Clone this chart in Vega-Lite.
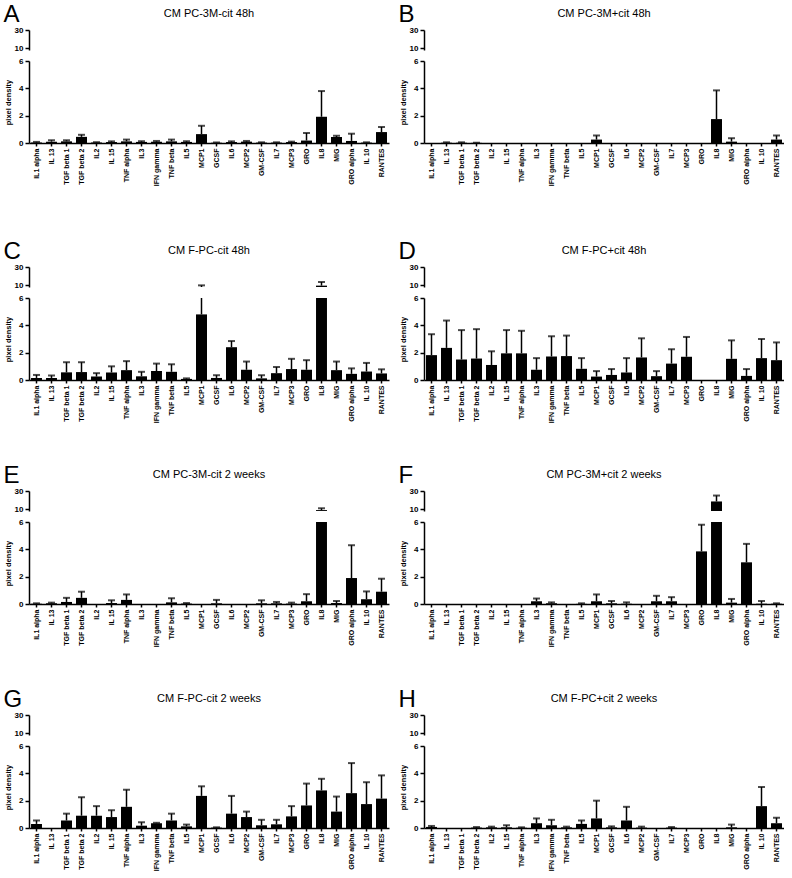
{
"$schema": "https://vega.github.io/schema/vega-lite/v6.json",
"background": "white",
"padding": {"left": 3, "top": 2, "right": 0, "bottom": 0},
"data": {"values": [
{"p":"A","c":"IL1 alpha","m":0.03,"h":0.08},{"p":"A","c":"IL 13","m":0.1,"h":0.2},{"p":"A","c":"TGF beta 1","m":0.12,"h":0.2},{"p":"A","c":"TGF beta 2","m":0.45,"h":0.6},{"p":"A","c":"IL2","m":0.03,"h":0.06},{"p":"A","c":"IL 15","m":0.07,"h":0.12},{"p":"A","c":"TNF alpha","m":0.12,"h":0.25},{"p":"A","c":"IL3","m":0.08,"h":0.13},{"p":"A","c":"IFN gamma","m":0.1,"h":0.15},{"p":"A","c":"TNF beta","m":0.12,"h":0.25},{"p":"A","c":"IL5","m":0.08,"h":0.13},{"p":"A","c":"MCP1","m":0.65,"h":1.26},{"p":"A","c":"GCSF","m":0.02,"h":0.04},{"p":"A","c":"IL6","m":0.07,"h":0.12},{"p":"A","c":"MCP2","m":0.1,"h":0.15},{"p":"A","c":"GM-CSF","m":0.03,"h":0.05},{"p":"A","c":"IL7","m":0.03,"h":0.05},{"p":"A","c":"MCP3","m":0.07,"h":0.1},{"p":"A","c":"GRO","m":0.18,"h":0.73},{"p":"A","c":"IL8","m":1.92,"h":3.8},{"p":"A","c":"MIG","m":0.44,"h":0.53},{"p":"A","c":"GRO alpha","m":0.15,"h":0.68},{"p":"A","c":"IL 10","m":0.03,"h":0.05},{"p":"A","c":"RANTES","m":0.8,"h":1.17},
{"p":"B","c":"IL1 alpha","m":0,"h":0},{"p":"B","c":"IL 13","m":0.02,"h":0.05},{"p":"B","c":"TGF beta 1","m":0.02,"h":0.05},{"p":"B","c":"TGF beta 2","m":0.01,"h":0.02},{"p":"B","c":"IL2","m":0,"h":0},{"p":"B","c":"IL 15","m":0,"h":0},{"p":"B","c":"TNF alpha","m":0,"h":0},{"p":"B","c":"IL3","m":0,"h":0},{"p":"B","c":"IFN gamma","m":0,"h":0},{"p":"B","c":"TNF beta","m":0,"h":0},{"p":"B","c":"IL5","m":0,"h":0},{"p":"B","c":"MCP1","m":0.25,"h":0.55},{"p":"B","c":"GCSF","m":0,"h":0},{"p":"B","c":"IL6","m":0,"h":0},{"p":"B","c":"MCP2","m":0,"h":0},{"p":"B","c":"GM-CSF","m":0,"h":0},{"p":"B","c":"IL7","m":0,"h":0},{"p":"B","c":"MCP3","m":0,"h":0},{"p":"B","c":"GRO","m":0,"h":0},{"p":"B","c":"IL8","m":1.75,"h":3.85},{"p":"B","c":"MIG","m":0.1,"h":0.35},{"p":"B","c":"GRO alpha","m":0,"h":0},{"p":"B","c":"IL 10","m":0,"h":0},{"p":"B","c":"RANTES","m":0.25,"h":0.55},
{"p":"C","c":"IL1 alpha","m":0.15,"h":0.37},{"p":"C","c":"IL 13","m":0.15,"h":0.33},{"p":"C","c":"TGF beta 1","m":0.56,"h":1.3},{"p":"C","c":"TGF beta 2","m":0.58,"h":1.3},{"p":"C","c":"IL2","m":0.25,"h":0.5},{"p":"C","c":"IL 15","m":0.55,"h":1.0},{"p":"C","c":"TNF alpha","m":0.72,"h":1.38},{"p":"C","c":"IL3","m":0.27,"h":0.6},{"p":"C","c":"IFN gamma","m":0.65,"h":1.2},{"p":"C","c":"TNF beta","m":0.6,"h":1.15},{"p":"C","c":"IL5","m":0.08,"h":0.12},{"p":"C","c":"MCP1","m":4.8,"h":9.8},{"p":"C","c":"GCSF","m":0.15,"h":0.35},{"p":"C","c":"IL6","m":2.4,"h":2.85},{"p":"C","c":"MCP2","m":0.75,"h":1.35},{"p":"C","c":"GM-CSF","m":0.12,"h":0.35},{"p":"C","c":"IL7","m":0.5,"h":0.95},{"p":"C","c":"MCP3","m":0.8,"h":1.55},{"p":"C","c":"GRO","m":0.75,"h":1.45},{"p":"C","c":"IL8","m":9.5,"h":13.5},{"p":"C","c":"MIG","m":0.72,"h":1.35},{"p":"C","c":"GRO alpha","m":0.45,"h":0.85},{"p":"C","c":"IL 10","m":0.62,"h":1.25},{"p":"C","c":"RANTES","m":0.48,"h":0.78},
{"p":"D","c":"IL1 alpha","m":1.82,"h":3.35},{"p":"D","c":"IL 13","m":2.35,"h":4.35},{"p":"D","c":"TGF beta 1","m":1.5,"h":3.65},{"p":"D","c":"TGF beta 2","m":1.57,"h":3.72},{"p":"D","c":"IL2","m":1.1,"h":2.1},{"p":"D","c":"IL 15","m":1.95,"h":3.65},{"p":"D","c":"TNF alpha","m":1.95,"h":3.6},{"p":"D","c":"IL3","m":0.75,"h":1.6},{"p":"D","c":"IFN gamma","m":1.72,"h":3.2},{"p":"D","c":"TNF beta","m":1.75,"h":3.25},{"p":"D","c":"IL5","m":0.82,"h":1.6},{"p":"D","c":"MCP1","m":0.25,"h":0.65},{"p":"D","c":"GCSF","m":0.37,"h":0.8},{"p":"D","c":"IL6","m":0.55,"h":1.6},{"p":"D","c":"MCP2","m":1.65,"h":3.05},{"p":"D","c":"GM-CSF","m":0.28,"h":0.65},{"p":"D","c":"IL7","m":1.2,"h":2.25},{"p":"D","c":"MCP3","m":1.7,"h":3.15},{"p":"D","c":"GRO","m":0,"h":0},{"p":"D","c":"IL8","m":0,"h":0},{"p":"D","c":"MIG","m":1.55,"h":2.9},{"p":"D","c":"GRO alpha","m":0.3,"h":0.8},{"p":"D","c":"IL 10","m":1.6,"h":3.0},{"p":"D","c":"RANTES","m":1.45,"h":2.75},
{"p":"E","c":"IL1 alpha","m":0.02,"h":0.05},{"p":"E","c":"IL 13","m":0.05,"h":0.1},{"p":"E","c":"TGF beta 1","m":0.15,"h":0.45},{"p":"E","c":"TGF beta 2","m":0.45,"h":0.9},{"p":"E","c":"IL2","m":0,"h":0},{"p":"E","c":"IL 15","m":0.07,"h":0.27},{"p":"E","c":"TNF alpha","m":0.3,"h":0.7},{"p":"E","c":"IL3","m":0,"h":0},{"p":"E","c":"IFN gamma","m":0,"h":0},{"p":"E","c":"TNF beta","m":0.12,"h":0.42},{"p":"E","c":"IL5","m":0.03,"h":0.07},{"p":"E","c":"MCP1","m":0,"h":0},{"p":"E","c":"GCSF","m":0.05,"h":0.3},{"p":"E","c":"IL6","m":0,"h":0},{"p":"E","c":"MCP2","m":0,"h":0},{"p":"E","c":"GM-CSF","m":0.05,"h":0.27},{"p":"E","c":"IL7","m":0.05,"h":0.15},{"p":"E","c":"MCP3","m":0.03,"h":0.1},{"p":"E","c":"GRO","m":0.2,"h":0.72},{"p":"E","c":"IL8","m":9,"h":11},{"p":"E","c":"MIG","m":0.07,"h":0.22},{"p":"E","c":"GRO alpha","m":1.9,"h":4.3},{"p":"E","c":"IL 10","m":0.35,"h":0.92},{"p":"E","c":"RANTES","m":0.9,"h":1.85},
{"p":"F","c":"IL1 alpha","m":0,"h":0},{"p":"F","c":"IL 13","m":0,"h":0},{"p":"F","c":"TGF beta 1","m":0,"h":0},{"p":"F","c":"TGF beta 2","m":0,"h":0},{"p":"F","c":"IL2","m":0,"h":0},{"p":"F","c":"IL 15","m":0,"h":0},{"p":"F","c":"TNF alpha","m":0,"h":0},{"p":"F","c":"IL3","m":0.2,"h":0.4},{"p":"F","c":"IFN gamma","m":0.05,"h":0.12},{"p":"F","c":"TNF beta","m":0,"h":0},{"p":"F","c":"IL5","m":0.01,"h":0.05},{"p":"F","c":"MCP1","m":0.2,"h":0.7},{"p":"F","c":"GCSF","m":0.05,"h":0.22},{"p":"F","c":"IL6","m":0.02,"h":0.12},{"p":"F","c":"MCP2","m":0,"h":0},{"p":"F","c":"GM-CSF","m":0.2,"h":0.6},{"p":"F","c":"IL7","m":0.2,"h":0.5},{"p":"F","c":"MCP3","m":0,"h":0},{"p":"F","c":"GRO","m":3.85,"h":5.8},{"p":"F","c":"IL8","m":18.5,"h":25},{"p":"F","c":"MIG","m":0.1,"h":0.37},{"p":"F","c":"GRO alpha","m":3.05,"h":4.4},{"p":"F","c":"IL 10","m":0.02,"h":0.22},{"p":"F","c":"RANTES","m":0.02,"h":0.05},
{"p":"G","c":"IL1 alpha","m":0.3,"h":0.55},{"p":"G","c":"IL 13","m":0,"h":0},{"p":"G","c":"TGF beta 1","m":0.55,"h":1.05},{"p":"G","c":"TGF beta 2","m":0.9,"h":2.25},{"p":"G","c":"IL2","m":0.9,"h":1.6},{"p":"G","c":"IL 15","m":0.8,"h":1.3},{"p":"G","c":"TNF alpha","m":1.55,"h":2.8},{"p":"G","c":"IL3","m":0.17,"h":0.42},{"p":"G","c":"IFN gamma","m":0.35,"h":0.38},{"p":"G","c":"TNF beta","m":0.55,"h":1.05},{"p":"G","c":"IL5","m":0.12,"h":0.25},{"p":"G","c":"MCP1","m":2.35,"h":3.05},{"p":"G","c":"GCSF","m":0.03,"h":0.05},{"p":"G","c":"IL6","m":1.05,"h":2.35},{"p":"G","c":"MCP2","m":0.8,"h":1.2},{"p":"G","c":"GM-CSF","m":0.2,"h":0.6},{"p":"G","c":"IL7","m":0.27,"h":0.6},{"p":"G","c":"MCP3","m":0.85,"h":1.6},{"p":"G","c":"GRO","m":1.65,"h":3.25},{"p":"G","c":"IL8","m":2.75,"h":3.6},{"p":"G","c":"MIG","m":1.2,"h":2.3},{"p":"G","c":"GRO alpha","m":2.55,"h":4.75},{"p":"G","c":"IL 10","m":1.75,"h":3.35},{"p":"G","c":"RANTES","m":2.15,"h":3.85},
{"p":"H","c":"IL1 alpha","m":0.08,"h":0.15},{"p":"H","c":"IL 13","m":0,"h":0},{"p":"H","c":"TGF beta 1","m":0,"h":0},{"p":"H","c":"TGF beta 2","m":0.03,"h":0.07},{"p":"H","c":"IL2","m":0.05,"h":0.1},{"p":"H","c":"IL 15","m":0.05,"h":0.2},{"p":"H","c":"TNF alpha","m":0.02,"h":0.05},{"p":"H","c":"IL3","m":0.35,"h":0.7},{"p":"H","c":"IFN gamma","m":0.2,"h":0.6},{"p":"H","c":"TNF beta","m":0.05,"h":0.1},{"p":"H","c":"IL5","m":0.3,"h":0.55},{"p":"H","c":"MCP1","m":0.7,"h":2.0},{"p":"H","c":"GCSF","m":0.05,"h":0.12},{"p":"H","c":"IL6","m":0.55,"h":1.55},{"p":"H","c":"MCP2","m":0.03,"h":0.1},{"p":"H","c":"GM-CSF","m":0,"h":0},{"p":"H","c":"IL7","m":0.03,"h":0.07},{"p":"H","c":"MCP3","m":0,"h":0},{"p":"H","c":"GRO","m":0,"h":0},{"p":"H","c":"IL8","m":0,"h":0},{"p":"H","c":"MIG","m":0.05,"h":0.25},{"p":"H","c":"GRO alpha","m":0,"h":0},{"p":"H","c":"IL 10","m":1.6,"h":3.0},{"p":"H","c":"RANTES","m":0.35,"h":0.75}
]},
"vconcat": [
{"hconcat": [
{"vconcat": [
 {"width": 360, "height": 20, "title": {"text": "CM PC-3M-cit 48h", "offset": -17},
  "transform": [{"filter": "datum.p === 'A'"}],
  "encoding": {"x": {"field": "c", "type": "nominal", "scale": {"domain": ["IL1 alpha","IL 13","TGF beta 1","TGF beta 2","IL2","IL 15","TNF alpha","IL3","IFN gamma","TNF beta","IL5","MCP1","GCSF","IL6","MCP2","GM-CSF","IL7","MCP3","GRO","IL8","MIG","GRO alpha","IL 10","RANTES"], "paddingInner": 0.27, "paddingOuter": 0.135}, "axis": null},
   "y": {"field": "m", "type": "quantitative", "scale": {"domain": [8, 30], "nice": false, "zero": false}, "axis": {"values": [10, 30], "title": "A", "titleAngle": 0, "titleAlign": "left", "titleBaseline": "top", "titleX": -26, "titleY": -28, "titleFontSize": 24, "titleFontWeight": "normal"}}},
  "layer": [
   {"mark": {"type": "bar", "color": "black", "clip": true}},
   {"mark": {"type": "rule", "color": "black", "strokeWidth": 1.5, "clip": true}, "encoding": {"y2": {"field": "h"}}},
   {"transform": [{"filter": "datum.h > 0"}], "mark": {"type": "tick", "color": "black", "thickness": 2, "size": 7, "clip": true}, "encoding": {"y": {"field": "h", "type": "quantitative"}}}
  ]},
 {"width": 360, "height": 82,
  "transform": [{"filter": "datum.p === 'A'"}],
  "encoding": {"x": {"field": "c", "type": "nominal", "scale": {"domain": ["IL1 alpha","IL 13","TGF beta 1","TGF beta 2","IL2","IL 15","TNF alpha","IL3","IFN gamma","TNF beta","IL5","MCP1","GCSF","IL6","MCP2","GM-CSF","IL7","MCP3","GRO","IL8","MIG","GRO alpha","IL 10","RANTES"], "paddingInner": 0.27, "paddingOuter": 0.135}, "axis": {"title": null}},
   "y": {"field": "m", "type": "quantitative", "scale": {"domain": [0, 6], "nice": false}, "axis": {"values": [0, 2, 4, 6], "title": "pixel density"}}},
  "layer": [
   {"mark": {"type": "bar", "color": "black", "clip": true}},
   {"mark": {"type": "rule", "color": "black", "strokeWidth": 1.5, "clip": true}, "encoding": {"y2": {"field": "h"}}},
   {"transform": [{"filter": "datum.h > 0"}], "mark": {"type": "tick", "color": "black", "thickness": 2, "size": 7, "clip": true}, "encoding": {"y": {"field": "h", "type": "quantitative"}}}
  ]}
], "spacing": 4},
{"vconcat": [
 {"width": 360, "height": 20, "title": {"text": "CM PC-3M+cit 48h", "offset": -17},
  "transform": [{"filter": "datum.p === 'B'"}],
  "encoding": {"x": {"field": "c", "type": "nominal", "scale": {"domain": ["IL1 alpha","IL 13","TGF beta 1","TGF beta 2","IL2","IL 15","TNF alpha","IL3","IFN gamma","TNF beta","IL5","MCP1","GCSF","IL6","MCP2","GM-CSF","IL7","MCP3","GRO","IL8","MIG","GRO alpha","IL 10","RANTES"], "paddingInner": 0.27, "paddingOuter": 0.135}, "axis": null},
   "y": {"field": "m", "type": "quantitative", "scale": {"domain": [8, 30], "nice": false, "zero": false}, "axis": {"values": [10, 30], "title": "B", "titleAngle": 0, "titleAlign": "left", "titleBaseline": "top", "titleX": -26, "titleY": -28, "titleFontSize": 24, "titleFontWeight": "normal"}}},
  "layer": [
   {"mark": {"type": "bar", "color": "black", "clip": true}},
   {"mark": {"type": "rule", "color": "black", "strokeWidth": 1.5, "clip": true}, "encoding": {"y2": {"field": "h"}}},
   {"transform": [{"filter": "datum.h > 0"}], "mark": {"type": "tick", "color": "black", "thickness": 2, "size": 7, "clip": true}, "encoding": {"y": {"field": "h", "type": "quantitative"}}}
  ]},
 {"width": 360, "height": 82,
  "transform": [{"filter": "datum.p === 'B'"}],
  "encoding": {"x": {"field": "c", "type": "nominal", "scale": {"domain": ["IL1 alpha","IL 13","TGF beta 1","TGF beta 2","IL2","IL 15","TNF alpha","IL3","IFN gamma","TNF beta","IL5","MCP1","GCSF","IL6","MCP2","GM-CSF","IL7","MCP3","GRO","IL8","MIG","GRO alpha","IL 10","RANTES"], "paddingInner": 0.27, "paddingOuter": 0.135}, "axis": {"title": null}},
   "y": {"field": "m", "type": "quantitative", "scale": {"domain": [0, 6], "nice": false}, "axis": {"values": [0, 2, 4, 6], "title": "pixel density"}}},
  "layer": [
   {"mark": {"type": "bar", "color": "black", "clip": true}},
   {"mark": {"type": "rule", "color": "black", "strokeWidth": 1.5, "clip": true}, "encoding": {"y2": {"field": "h"}}},
   {"transform": [{"filter": "datum.h > 0"}], "mark": {"type": "tick", "color": "black", "thickness": 2, "size": 7, "clip": true}, "encoding": {"y": {"field": "h", "type": "quantitative"}}}
  ]}
], "spacing": 4}
], "spacing": 9},
{"vconcat": [
{"hconcat": [
{"vconcat": [
 {"width": 360, "height": 20, "title": {"text": "CM F-PC-cit 48h", "offset": -17},
  "transform": [{"filter": "datum.p === 'C'"}],
  "encoding": {"x": {"field": "c", "type": "nominal", "scale": {"domain": ["IL1 alpha","IL 13","TGF beta 1","TGF beta 2","IL2","IL 15","TNF alpha","IL3","IFN gamma","TNF beta","IL5","MCP1","GCSF","IL6","MCP2","GM-CSF","IL7","MCP3","GRO","IL8","MIG","GRO alpha","IL 10","RANTES"], "paddingInner": 0.27, "paddingOuter": 0.135}, "axis": null},
   "y": {"field": "m", "type": "quantitative", "scale": {"domain": [8, 30], "nice": false, "zero": false}, "axis": {"values": [10, 30], "title": "C", "titleAngle": 0, "titleAlign": "left", "titleBaseline": "top", "titleX": -26, "titleY": -28, "titleFontSize": 24, "titleFontWeight": "normal"}}},
  "layer": [
   {"mark": {"type": "bar", "color": "black", "clip": true}},
   {"mark": {"type": "rule", "color": "black", "strokeWidth": 1.5, "clip": true}, "encoding": {"y2": {"field": "h"}}},
   {"transform": [{"filter": "datum.h > 0"}], "mark": {"type": "tick", "color": "black", "thickness": 2, "size": 7, "clip": true}, "encoding": {"y": {"field": "h", "type": "quantitative"}}}
  ]},
 {"width": 360, "height": 82,
  "transform": [{"filter": "datum.p === 'C'"}],
  "encoding": {"x": {"field": "c", "type": "nominal", "scale": {"domain": ["IL1 alpha","IL 13","TGF beta 1","TGF beta 2","IL2","IL 15","TNF alpha","IL3","IFN gamma","TNF beta","IL5","MCP1","GCSF","IL6","MCP2","GM-CSF","IL7","MCP3","GRO","IL8","MIG","GRO alpha","IL 10","RANTES"], "paddingInner": 0.27, "paddingOuter": 0.135}, "axis": {"title": null}},
   "y": {"field": "m", "type": "quantitative", "scale": {"domain": [0, 6], "nice": false}, "axis": {"values": [0, 2, 4, 6], "title": "pixel density"}}},
  "layer": [
   {"mark": {"type": "bar", "color": "black", "clip": true}},
   {"mark": {"type": "rule", "color": "black", "strokeWidth": 1.5, "clip": true}, "encoding": {"y2": {"field": "h"}}},
   {"transform": [{"filter": "datum.h > 0"}], "mark": {"type": "tick", "color": "black", "thickness": 2, "size": 7, "clip": true}, "encoding": {"y": {"field": "h", "type": "quantitative"}}}
  ]}
], "spacing": 4},
{"vconcat": [
 {"width": 360, "height": 20, "title": {"text": "CM F-PC+cit 48h", "offset": -17},
  "transform": [{"filter": "datum.p === 'D'"}],
  "encoding": {"x": {"field": "c", "type": "nominal", "scale": {"domain": ["IL1 alpha","IL 13","TGF beta 1","TGF beta 2","IL2","IL 15","TNF alpha","IL3","IFN gamma","TNF beta","IL5","MCP1","GCSF","IL6","MCP2","GM-CSF","IL7","MCP3","GRO","IL8","MIG","GRO alpha","IL 10","RANTES"], "paddingInner": 0.27, "paddingOuter": 0.135}, "axis": null},
   "y": {"field": "m", "type": "quantitative", "scale": {"domain": [8, 30], "nice": false, "zero": false}, "axis": {"values": [10, 30], "title": "D", "titleAngle": 0, "titleAlign": "left", "titleBaseline": "top", "titleX": -26, "titleY": -28, "titleFontSize": 24, "titleFontWeight": "normal"}}},
  "layer": [
   {"mark": {"type": "bar", "color": "black", "clip": true}},
   {"mark": {"type": "rule", "color": "black", "strokeWidth": 1.5, "clip": true}, "encoding": {"y2": {"field": "h"}}},
   {"transform": [{"filter": "datum.h > 0"}], "mark": {"type": "tick", "color": "black", "thickness": 2, "size": 7, "clip": true}, "encoding": {"y": {"field": "h", "type": "quantitative"}}}
  ]},
 {"width": 360, "height": 82,
  "transform": [{"filter": "datum.p === 'D'"}],
  "encoding": {"x": {"field": "c", "type": "nominal", "scale": {"domain": ["IL1 alpha","IL 13","TGF beta 1","TGF beta 2","IL2","IL 15","TNF alpha","IL3","IFN gamma","TNF beta","IL5","MCP1","GCSF","IL6","MCP2","GM-CSF","IL7","MCP3","GRO","IL8","MIG","GRO alpha","IL 10","RANTES"], "paddingInner": 0.27, "paddingOuter": 0.135}, "axis": {"title": null}},
   "y": {"field": "m", "type": "quantitative", "scale": {"domain": [0, 6], "nice": false}, "axis": {"values": [0, 2, 4, 6], "title": "pixel density"}}},
  "layer": [
   {"mark": {"type": "bar", "color": "black", "clip": true}},
   {"mark": {"type": "rule", "color": "black", "strokeWidth": 1.5, "clip": true}, "encoding": {"y2": {"field": "h"}}},
   {"transform": [{"filter": "datum.h > 0"}], "mark": {"type": "tick", "color": "black", "thickness": 2, "size": 7, "clip": true}, "encoding": {"y": {"field": "h", "type": "quantitative"}}}
  ]}
], "spacing": 4}
], "spacing": 9},
{"hconcat": [
{"vconcat": [
 {"width": 360, "height": 20, "title": {"text": "CM PC-3M-cit 2 weeks", "offset": -17},
  "transform": [{"filter": "datum.p === 'E'"}],
  "encoding": {"x": {"field": "c", "type": "nominal", "scale": {"domain": ["IL1 alpha","IL 13","TGF beta 1","TGF beta 2","IL2","IL 15","TNF alpha","IL3","IFN gamma","TNF beta","IL5","MCP1","GCSF","IL6","MCP2","GM-CSF","IL7","MCP3","GRO","IL8","MIG","GRO alpha","IL 10","RANTES"], "paddingInner": 0.27, "paddingOuter": 0.135}, "axis": null},
   "y": {"field": "m", "type": "quantitative", "scale": {"domain": [8, 30], "nice": false, "zero": false}, "axis": {"values": [10, 30], "title": "E", "titleAngle": 0, "titleAlign": "left", "titleBaseline": "top", "titleX": -26, "titleY": -28, "titleFontSize": 24, "titleFontWeight": "normal"}}},
  "layer": [
   {"mark": {"type": "bar", "color": "black", "clip": true}},
   {"mark": {"type": "rule", "color": "black", "strokeWidth": 1.5, "clip": true}, "encoding": {"y2": {"field": "h"}}},
   {"transform": [{"filter": "datum.h > 0"}], "mark": {"type": "tick", "color": "black", "thickness": 2, "size": 7, "clip": true}, "encoding": {"y": {"field": "h", "type": "quantitative"}}}
  ]},
 {"width": 360, "height": 82,
  "transform": [{"filter": "datum.p === 'E'"}],
  "encoding": {"x": {"field": "c", "type": "nominal", "scale": {"domain": ["IL1 alpha","IL 13","TGF beta 1","TGF beta 2","IL2","IL 15","TNF alpha","IL3","IFN gamma","TNF beta","IL5","MCP1","GCSF","IL6","MCP2","GM-CSF","IL7","MCP3","GRO","IL8","MIG","GRO alpha","IL 10","RANTES"], "paddingInner": 0.27, "paddingOuter": 0.135}, "axis": {"title": null}},
   "y": {"field": "m", "type": "quantitative", "scale": {"domain": [0, 6], "nice": false}, "axis": {"values": [0, 2, 4, 6], "title": "pixel density"}}},
  "layer": [
   {"mark": {"type": "bar", "color": "black", "clip": true}},
   {"mark": {"type": "rule", "color": "black", "strokeWidth": 1.5, "clip": true}, "encoding": {"y2": {"field": "h"}}},
   {"transform": [{"filter": "datum.h > 0"}], "mark": {"type": "tick", "color": "black", "thickness": 2, "size": 7, "clip": true}, "encoding": {"y": {"field": "h", "type": "quantitative"}}}
  ]}
], "spacing": 4},
{"vconcat": [
 {"width": 360, "height": 20, "title": {"text": "CM PC-3M+cit 2 weeks", "offset": -17},
  "transform": [{"filter": "datum.p === 'F'"}],
  "encoding": {"x": {"field": "c", "type": "nominal", "scale": {"domain": ["IL1 alpha","IL 13","TGF beta 1","TGF beta 2","IL2","IL 15","TNF alpha","IL3","IFN gamma","TNF beta","IL5","MCP1","GCSF","IL6","MCP2","GM-CSF","IL7","MCP3","GRO","IL8","MIG","GRO alpha","IL 10","RANTES"], "paddingInner": 0.27, "paddingOuter": 0.135}, "axis": null},
   "y": {"field": "m", "type": "quantitative", "scale": {"domain": [8, 30], "nice": false, "zero": false}, "axis": {"values": [10, 30], "title": "F", "titleAngle": 0, "titleAlign": "left", "titleBaseline": "top", "titleX": -26, "titleY": -28, "titleFontSize": 24, "titleFontWeight": "normal"}}},
  "layer": [
   {"mark": {"type": "bar", "color": "black", "clip": true}},
   {"mark": {"type": "rule", "color": "black", "strokeWidth": 1.5, "clip": true}, "encoding": {"y2": {"field": "h"}}},
   {"transform": [{"filter": "datum.h > 0"}], "mark": {"type": "tick", "color": "black", "thickness": 2, "size": 7, "clip": true}, "encoding": {"y": {"field": "h", "type": "quantitative"}}}
  ]},
 {"width": 360, "height": 82,
  "transform": [{"filter": "datum.p === 'F'"}],
  "encoding": {"x": {"field": "c", "type": "nominal", "scale": {"domain": ["IL1 alpha","IL 13","TGF beta 1","TGF beta 2","IL2","IL 15","TNF alpha","IL3","IFN gamma","TNF beta","IL5","MCP1","GCSF","IL6","MCP2","GM-CSF","IL7","MCP3","GRO","IL8","MIG","GRO alpha","IL 10","RANTES"], "paddingInner": 0.27, "paddingOuter": 0.135}, "axis": {"title": null}},
   "y": {"field": "m", "type": "quantitative", "scale": {"domain": [0, 6], "nice": false}, "axis": {"values": [0, 2, 4, 6], "title": "pixel density"}}},
  "layer": [
   {"mark": {"type": "bar", "color": "black", "clip": true}},
   {"mark": {"type": "rule", "color": "black", "strokeWidth": 1.5, "clip": true}, "encoding": {"y2": {"field": "h"}}},
   {"transform": [{"filter": "datum.h > 0"}], "mark": {"type": "tick", "color": "black", "thickness": 2, "size": 7, "clip": true}, "encoding": {"y": {"field": "h", "type": "quantitative"}}}
  ]}
], "spacing": 4}
], "spacing": 9},
{"hconcat": [
{"vconcat": [
 {"width": 360, "height": 20, "title": {"text": "CM F-PC-cit 2 weeks", "offset": -17},
  "transform": [{"filter": "datum.p === 'G'"}],
  "encoding": {"x": {"field": "c", "type": "nominal", "scale": {"domain": ["IL1 alpha","IL 13","TGF beta 1","TGF beta 2","IL2","IL 15","TNF alpha","IL3","IFN gamma","TNF beta","IL5","MCP1","GCSF","IL6","MCP2","GM-CSF","IL7","MCP3","GRO","IL8","MIG","GRO alpha","IL 10","RANTES"], "paddingInner": 0.27, "paddingOuter": 0.135}, "axis": null},
   "y": {"field": "m", "type": "quantitative", "scale": {"domain": [8, 30], "nice": false, "zero": false}, "axis": {"values": [10, 30], "title": "G", "titleAngle": 0, "titleAlign": "left", "titleBaseline": "top", "titleX": -26, "titleY": -28, "titleFontSize": 24, "titleFontWeight": "normal"}}},
  "layer": [
   {"mark": {"type": "bar", "color": "black", "clip": true}},
   {"mark": {"type": "rule", "color": "black", "strokeWidth": 1.5, "clip": true}, "encoding": {"y2": {"field": "h"}}},
   {"transform": [{"filter": "datum.h > 0"}], "mark": {"type": "tick", "color": "black", "thickness": 2, "size": 7, "clip": true}, "encoding": {"y": {"field": "h", "type": "quantitative"}}}
  ]},
 {"width": 360, "height": 82,
  "transform": [{"filter": "datum.p === 'G'"}],
  "encoding": {"x": {"field": "c", "type": "nominal", "scale": {"domain": ["IL1 alpha","IL 13","TGF beta 1","TGF beta 2","IL2","IL 15","TNF alpha","IL3","IFN gamma","TNF beta","IL5","MCP1","GCSF","IL6","MCP2","GM-CSF","IL7","MCP3","GRO","IL8","MIG","GRO alpha","IL 10","RANTES"], "paddingInner": 0.27, "paddingOuter": 0.135}, "axis": {"title": null}},
   "y": {"field": "m", "type": "quantitative", "scale": {"domain": [0, 6], "nice": false}, "axis": {"values": [0, 2, 4, 6], "title": "pixel density"}}},
  "layer": [
   {"mark": {"type": "bar", "color": "black", "clip": true}},
   {"mark": {"type": "rule", "color": "black", "strokeWidth": 1.5, "clip": true}, "encoding": {"y2": {"field": "h"}}},
   {"transform": [{"filter": "datum.h > 0"}], "mark": {"type": "tick", "color": "black", "thickness": 2, "size": 7, "clip": true}, "encoding": {"y": {"field": "h", "type": "quantitative"}}}
  ]}
], "spacing": 4},
{"vconcat": [
 {"width": 360, "height": 20, "title": {"text": "CM F-PC+cit 2 weeks", "offset": -17},
  "transform": [{"filter": "datum.p === 'H'"}],
  "encoding": {"x": {"field": "c", "type": "nominal", "scale": {"domain": ["IL1 alpha","IL 13","TGF beta 1","TGF beta 2","IL2","IL 15","TNF alpha","IL3","IFN gamma","TNF beta","IL5","MCP1","GCSF","IL6","MCP2","GM-CSF","IL7","MCP3","GRO","IL8","MIG","GRO alpha","IL 10","RANTES"], "paddingInner": 0.27, "paddingOuter": 0.135}, "axis": null},
   "y": {"field": "m", "type": "quantitative", "scale": {"domain": [8, 30], "nice": false, "zero": false}, "axis": {"values": [10, 30], "title": "H", "titleAngle": 0, "titleAlign": "left", "titleBaseline": "top", "titleX": -26, "titleY": -28, "titleFontSize": 24, "titleFontWeight": "normal"}}},
  "layer": [
   {"mark": {"type": "bar", "color": "black", "clip": true}},
   {"mark": {"type": "rule", "color": "black", "strokeWidth": 1.5, "clip": true}, "encoding": {"y2": {"field": "h"}}},
   {"transform": [{"filter": "datum.h > 0"}], "mark": {"type": "tick", "color": "black", "thickness": 2, "size": 7, "clip": true}, "encoding": {"y": {"field": "h", "type": "quantitative"}}}
  ]},
 {"width": 360, "height": 82,
  "transform": [{"filter": "datum.p === 'H'"}],
  "encoding": {"x": {"field": "c", "type": "nominal", "scale": {"domain": ["IL1 alpha","IL 13","TGF beta 1","TGF beta 2","IL2","IL 15","TNF alpha","IL3","IFN gamma","TNF beta","IL5","MCP1","GCSF","IL6","MCP2","GM-CSF","IL7","MCP3","GRO","IL8","MIG","GRO alpha","IL 10","RANTES"], "paddingInner": 0.27, "paddingOuter": 0.135}, "axis": {"title": null}},
   "y": {"field": "m", "type": "quantitative", "scale": {"domain": [0, 6], "nice": false}, "axis": {"values": [0, 2, 4, 6], "title": "pixel density"}}},
  "layer": [
   {"mark": {"type": "bar", "color": "black", "clip": true}},
   {"mark": {"type": "rule", "color": "black", "strokeWidth": 1.5, "clip": true}, "encoding": {"y2": {"field": "h"}}},
   {"transform": [{"filter": "datum.h > 0"}], "mark": {"type": "tick", "color": "black", "thickness": 2, "size": 7, "clip": true}, "encoding": {"y": {"field": "h", "type": "quantitative"}}}
  ]}
], "spacing": 4}
], "spacing": 9}
], "spacing": 40}
],
"spacing": 53,
"config": {
 "font": "Liberation Sans",
 "view": {"stroke": null},
 "title": {"fontSize": 11, "fontWeight": "normal", "color": "black", "font": "Liberation Sans"},
 "axis": {"grid": false, "domainColor": "black", "tickColor": "black", "labelColor": "black", "titleColor": "black", "domainWidth": 1.5, "tickWidth": 1.5, "labelFont": "Liberation Sans", "titleFont": "Liberation Sans", "labelFontWeight": "bold", "labelFontSize": 8},
 "axisX": {"labelAngle": -90, "labelFontSize": 7, "tickSize": 3, "labelPadding": 2},
 "axisY": {"tickSize": 4, "labelPadding": 2, "titleFontSize": 7.5, "titleFontWeight": "bold", "titlePadding": 6}
}
}
